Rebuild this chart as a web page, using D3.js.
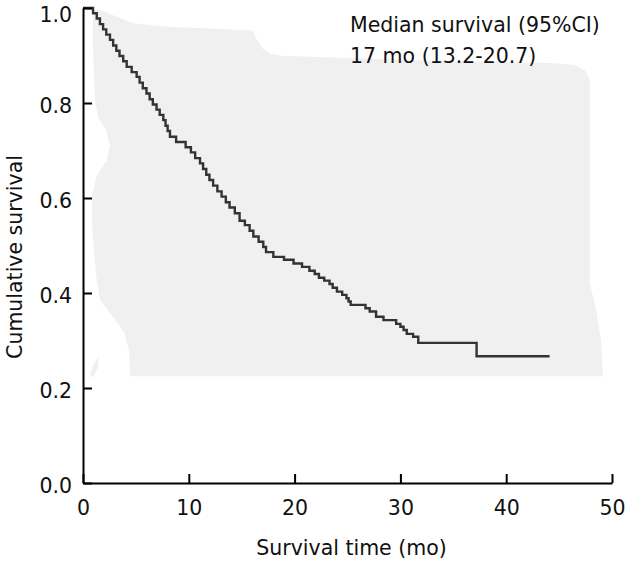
<!DOCTYPE html>
<html>
<head>
<meta charset="utf-8">
<script src="https://cdn.jsdelivr.net/npm/d3@7"></script>
<style>
  html, body { margin: 0; padding: 0; background: #fff; }
  svg { display: block; }
  text { font-family: "DejaVu Sans", Verdana, sans-serif; fill: #111; }
</style>
</head>
<body>
<svg id="chart" width="630" height="562"></svg>
<script>
// ---- Data ----
const xTicks = [0, 10, 20, 30, 40, 50];
const yTicks = [0.0, 0.2, 0.4, 0.6, 0.8, 1.0];

// Kaplan-Meier step points: [time (mo), cumulative survival after event]
const kmTimes = [0, 0.95, 1.3, 1.6, 1.9, 2.2, 2.55, 2.85, 3.15, 3.45, 3.8, 4.13, 4.6, 5.07,
  5.35, 5.65, 6.0, 6.3, 6.6, 6.95, 7.25, 7.59, 7.8, 8.0, 8.22, 8.8, 9.7, 10.2, 10.6, 11.06,
  11.35, 11.65, 11.95, 12.3, 12.7, 13.1, 13.5, 13.85, 14.35, 14.8, 15.3, 15.75, 16.1, 16.6,
  17.04, 17.3, 17.99, 19.0, 19.9, 20.7, 21.4, 21.9, 22.3, 22.8, 23.3, 23.6, 24.0, 24.5, 24.9,
  25.1, 25.3, 26.7, 27.1, 27.7, 28.4, 29.6, 30.0, 30.3, 30.6, 31.2, 31.69, 37.2];
const kmSurv = [1.0, 0.989, 0.978, 0.966, 0.955, 0.944, 0.933, 0.921, 0.910, 0.899, 0.888, 0.876, 0.865, 0.855,
  0.843, 0.831, 0.820, 0.808, 0.797, 0.786, 0.775, 0.764, 0.752, 0.741, 0.729, 0.718, 0.707, 0.696, 0.684, 0.673,
  0.661, 0.649, 0.638, 0.626, 0.614, 0.603, 0.591, 0.580, 0.568, 0.552, 0.543, 0.531, 0.519, 0.508,
  0.497, 0.486, 0.476, 0.470, 0.462, 0.455, 0.447, 0.440, 0.432, 0.426, 0.419, 0.411, 0.403, 0.396, 0.389,
  0.382, 0.375, 0.368, 0.361, 0.350, 0.343, 0.335, 0.329, 0.322, 0.314, 0.308, 0.295, 0.267];
const kmEnd = 44.1;

// Light grey background region, outline in data units [time, survival]
const bandTime = [0.95, 1.61, 3.02, 4.73, 8.22, 11.06, 16.07, 16.35, 16.92, 17.67, 19.09, 22.4, 29.96,
  44.14, 46.5, 47.45, 47.9, 47.9, 48.5, 48.96, 49.15, 4.44, 4.35, 3.88, 2.55, 1.61, 1.23, 0.85, 0.85,
  1.32, 2.27, 2.55, 2.17, 1.42, 1.13, 0.95];
const bandSurv = [0.996, 0.996, 0.983, 0.968, 0.96, 0.958, 0.952, 0.937, 0.916, 0.903, 0.899, 0.897, 0.891,
  0.884, 0.88, 0.869, 0.848, 0.421, 0.364, 0.301, 0.225, 0.225, 0.28, 0.318, 0.358, 0.385, 0.438, 0.547, 0.606,
  0.648, 0.68, 0.712, 0.743, 0.771, 0.806, 0.912];
const blobTime = [1.13, 1.51, 1.42, 0.95, 0.66];
const blobSurv = [0.255, 0.266, 0.244, 0.222, 0.228];

const annotation = ["Median survival (95%CI)", "17 mo (13.2-20.7)"];
const xTitle = "Survival time (mo)";
const yTitle = "Cumulative survival";

// ---- Layout ----
const svg = d3.select("#chart");
const x = d3.scaleLinear().domain([0, 50]).range([83, 612]);
const y = d3.scaleLinear().domain([0, 1]).range([483, 8]);

const FS = 20.5;

// Background grey region
const areaLine = d3.line().x(d => x(d[0])).y(d => y(d[1]));
svg.append("path")
  .attr("d", areaLine(bandTime.map((t, i) => [t, bandSurv[i]])) + "Z")
  .attr("fill", "#f0f0f0");
svg.append("path")
  .attr("d", areaLine(blobTime.map((t, i) => [t, blobSurv[i]])) + "Z")
  .attr("fill", "#f0f0f0");

// KM curve
const kmPts = kmTimes.map((t, i) => [t, kmSurv[i]]);
kmPts.push([kmEnd, kmSurv[kmSurv.length - 1]]);
svg.append("path")
  .attr("d", d3.line().x(d => x(d[0])).y(d => y(d[1])).curve(d3.curveStepAfter)(kmPts))
  .attr("fill", "none")
  .attr("stroke", "#333")
  .attr("stroke-width", 2.4)
  .attr("stroke-linejoin", "miter");

// Axes
const yAxis = d3.axisLeft(y).tickValues(yTicks).tickFormat(d3.format(".1f"))
  .tickSizeInner(-9).tickSizeOuter(0).tickPadding(11);
const gy = svg.append("g").attr("transform", `translate(${x(0)},0)`).call(yAxis);
const xAxis = d3.axisBottom(x).tickValues(xTicks).tickFormat(d3.format("d"))
  .tickSizeInner(-9).tickSizeOuter(0).tickPadding(17);
const gx = svg.append("g").attr("transform", `translate(0,${y(0)})`).call(xAxis);

[gx, gy].forEach(g => {
  g.selectAll("path.domain").attr("stroke", "#000").attr("stroke-width", 2);
  g.selectAll(".tick line").attr("stroke", "#000").attr("stroke-width", 2);
  g.selectAll(".tick text").style("font-size", FS + "px").attr("fill", "#111")
    .style("font-family", '"DejaVu Sans", Verdana, sans-serif');
});
gy.selectAll(".tick text").attr("dy", d => d === 1 ? "0.66em" : "0.47em");

// Axis titles
svg.append("text")
  .attr("x", (x(0) + x(50)) / 2 + 4).attr("y", 555)
  .attr("text-anchor", "middle").style("font-size", FS + "px")
  .text(xTitle);
svg.append("text")
  .attr("transform", `translate(22,${257}) rotate(-90)`)
  .attr("text-anchor", "middle").style("font-size", FS + "px")
  .text(yTitle);

// Annotation
svg.append("text").attr("x", 350).attr("y", 31.5).style("font-size", FS + "px").text(annotation[0]);
svg.append("text").attr("x", 350).attr("y", 63).style("font-size", FS + "px").text(annotation[1]);
</script>
</body>
</html>
